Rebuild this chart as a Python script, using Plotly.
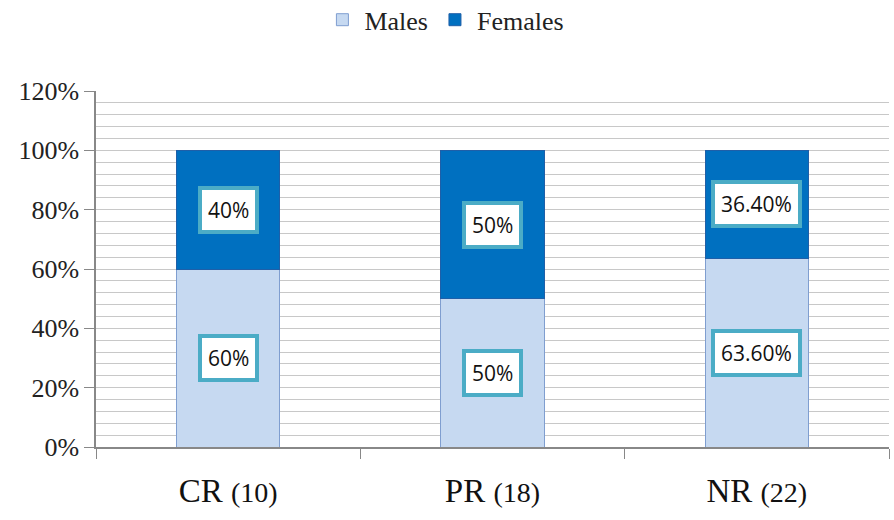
import plotly.graph_objects as go

categories = ["CR (10)", "PR (18)", "NR (22)"]
males = [0.60, 0.50, 0.636]
females = [0.40, 0.50, 0.364]
male_labels = ["60%", "50%", "63.60%"]
female_labels = ["40%", "50%", "36.40%"]
y_ticks = [0, 0.2, 0.4, 0.6, 0.8, 1.0, 1.2]
y_tick_labels = ["0%", "20%", "40%", "60%", "80%", "100%", "120%"]

cat_text = [c.replace(" (", " <span style='font-size:28px'>(") + "</span>" for c in categories]

fig = go.Figure()
fig.add_trace(go.Bar(name="Males", x=categories, y=males,
                     marker=dict(color="#C6D9F1", line=dict(color="#7F9ED0", width=1)),
                     width=0.39))
fig.add_trace(go.Bar(name="Females", x=categories, y=females,
                     marker=dict(color="#0070C0", line=dict(color="#1F5FA8", width=1)),
                     width=0.39))

for c, m, f, ml, fl in zip(categories, males, females, male_labels, female_labels):
    for yv, txt in ((m / 2, ml), (m + f / 2, fl)):
        fig.add_annotation(x=c, y=yv, text=txt, showarrow=False,
                           font=dict(family="Open Sans, Liberation Sans, sans-serif", size=21, color="#111"),
                           bgcolor="white", bordercolor="#4BACC6", borderwidth=4, borderpad=6)

fig.update_layout(
    barmode="stack",
    width=894, height=520,
    margin=dict(l=96, r=5, t=91, b=73, autoexpand=False),
    paper_bgcolor="white", plot_bgcolor="white",
    showlegend=True,
    legend=dict(orientation="h", x=0.44, xanchor="center", y=1.2, yanchor="middle",
                font=dict(family="Liberation Serif, serif", size=26, color="#222"),
                traceorder="normal", itemwidth=34),
    xaxis=dict(tickmode="array", tickvals=categories, ticktext=cat_text,
               tickson="boundaries", ticks="outside", ticklen=10, tickcolor="#888",
               showline=True, linecolor="#888", linewidth=1.5,
               tickfont=dict(family="Liberation Serif, serif", size=33, color="#111"),
               ticklabelstandoff=14,
               showgrid=False),
    yaxis=dict(range=[0, 1.2], tickvals=y_ticks, ticktext=y_tick_labels,
               ticks="outside", ticklen=10, tickcolor="#888",
               showline=True, linecolor="#888", linewidth=1.5,
               gridcolor="#C8C8C8", gridwidth=1.2,
               minor=dict(dtick=0.04, showgrid=True, gridcolor="#C8C8C8", gridwidth=1.2),
               tickfont=dict(family="Liberation Serif, serif", size=26, color="#222"),
               zeroline=False),
    bargap=0.61,
)

fig.write_html("out.html", config={"displayModeBar": False},
               post_script="document.body.style.margin='0';")
